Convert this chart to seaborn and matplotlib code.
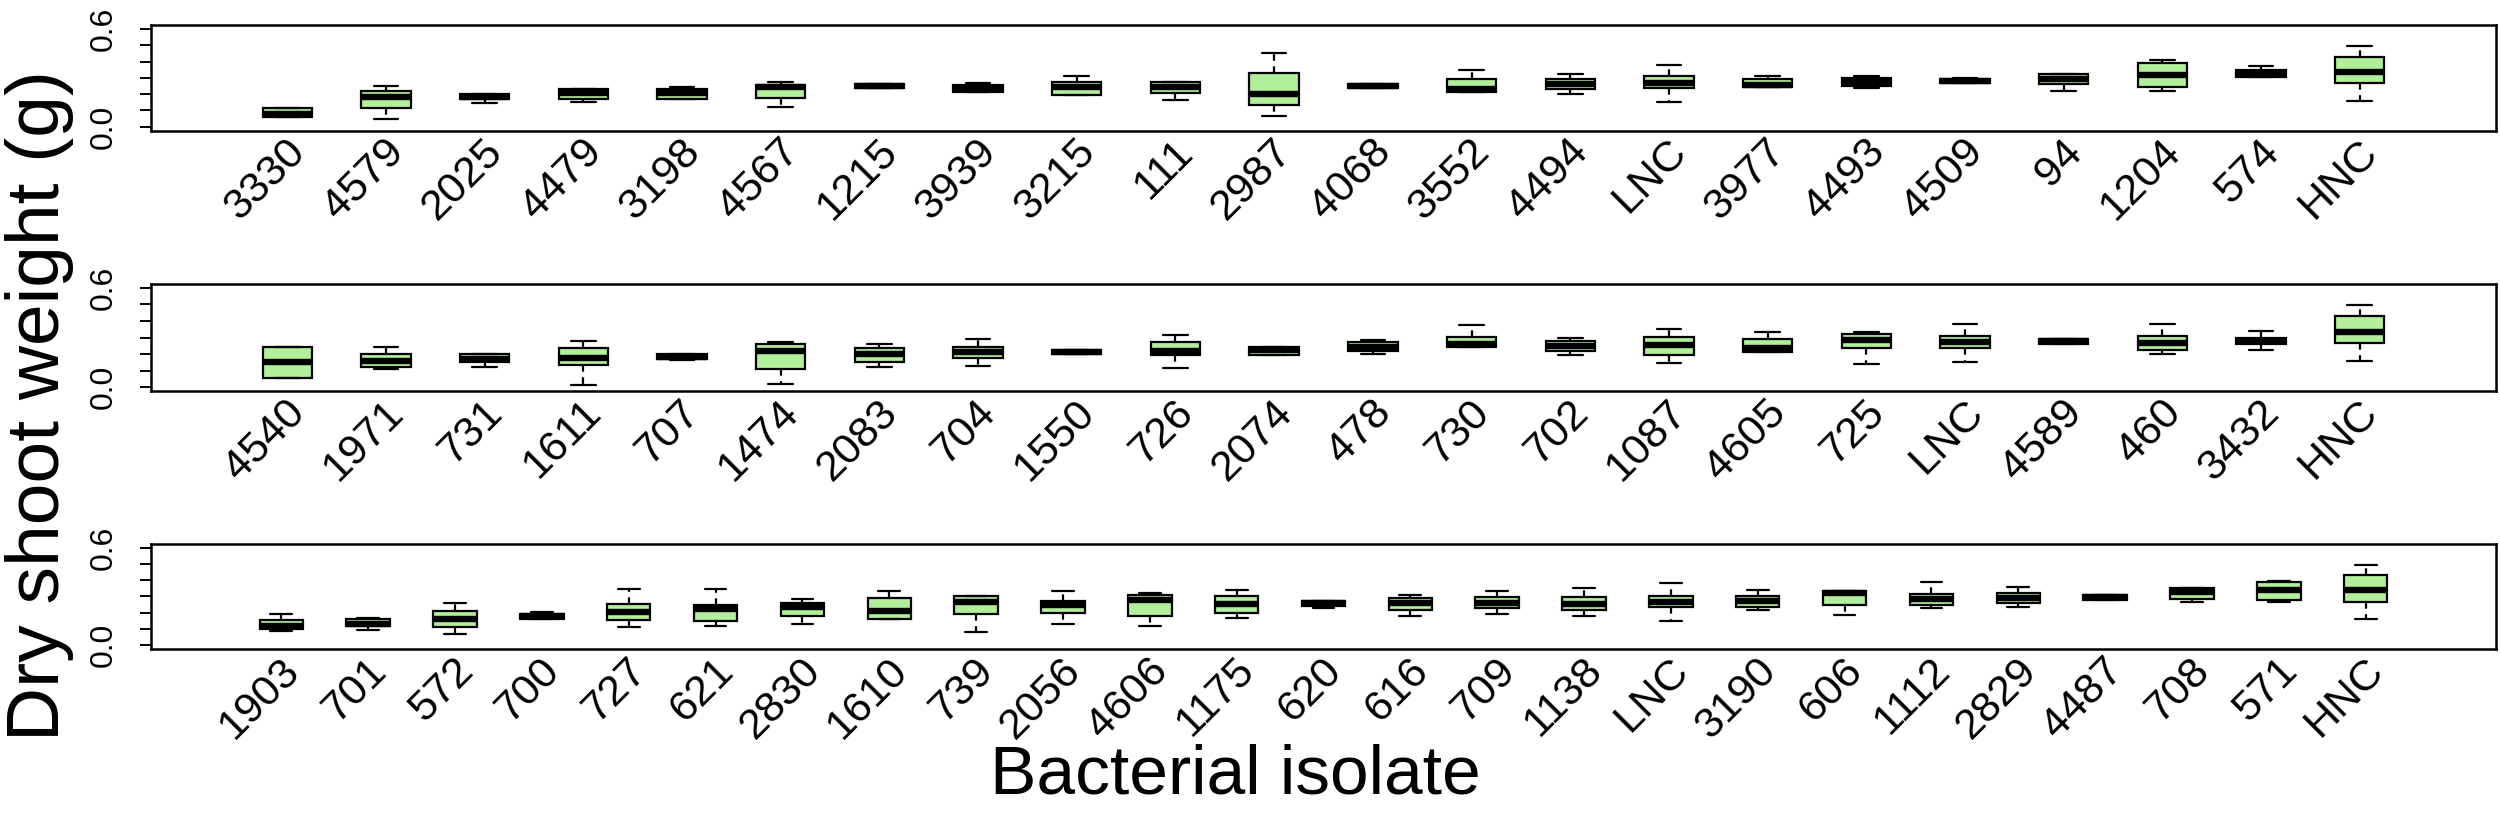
import numpy as np
import pandas as pd
import matplotlib
matplotlib.use("Agg")
import matplotlib.pyplot as plt
import matplotlib.transforms as mtransforms
import seaborn as sns

# Panel 1 - five-number summaries (lower whisker, Q1, median, Q3, upper whisker)
labels_1 = ["3330", "4579", "2025", "4479", "3198", "4567", "1215", "3939", "3215", "111", "2987",
            "4068", "3552", "4494", "LNC", "3977", "4493", "4509", "94", "1204", "574", "HNC"]
lo_1 = [0.057, 0.049, 0.148, 0.150, 0.168, 0.121, 0.238, 0.211, 0.197, 0.164, 0.066,
        0.238, 0.211, 0.199, 0.150, 0.242, 0.238, 0.268, 0.221, 0.221, 0.305, 0.160]
q1_1 = [0.057, 0.113, 0.168, 0.168, 0.172, 0.178, 0.240, 0.211, 0.197, 0.209, 0.131,
        0.238, 0.211, 0.230, 0.238, 0.242, 0.250, 0.268, 0.262, 0.246, 0.305, 0.268]
med_1 = [0.080, 0.180, 0.184, 0.210, 0.205, 0.242, 0.252, 0.230, 0.242, 0.246, 0.201,
         0.250, 0.230, 0.262, 0.270, 0.258, 0.273, 0.283, 0.295, 0.320, 0.332, 0.338]
q3_1 = [0.113, 0.219, 0.203, 0.234, 0.232, 0.258, 0.262, 0.258, 0.275, 0.275, 0.328,
        0.262, 0.295, 0.293, 0.309, 0.291, 0.297, 0.295, 0.324, 0.389, 0.348, 0.430]
hi_1 = [0.113, 0.250, 0.203, 0.234, 0.242, 0.273, 0.262, 0.268, 0.313, 0.275, 0.451,
        0.262, 0.350, 0.322, 0.381, 0.311, 0.311, 0.301, 0.324, 0.410, 0.373, 0.494]

# Panel 2
labels_2 = ["4540", "1971", "731", "1611", "707", "1474", "2083", "704", "1550", "726", "2074",
            "478", "730", "702", "1087", "4605", "725", "LNC", "4589", "460", "3432", "HNC"]
lo_2 = [0.057, 0.107, 0.123, 0.014, 0.164, 0.018, 0.119, 0.125, 0.203, 0.115, 0.195,
        0.203, 0.242, 0.195, 0.148, 0.213, 0.141, 0.150, 0.262, 0.201, 0.227, 0.160]
q1_2 = [0.057, 0.119, 0.152, 0.133, 0.170, 0.107, 0.152, 0.174, 0.203, 0.195, 0.195,
        0.217, 0.242, 0.219, 0.197, 0.213, 0.238, 0.236, 0.262, 0.225, 0.258, 0.268]
med_2 = [0.152, 0.160, 0.168, 0.178, 0.184, 0.219, 0.199, 0.211, 0.215, 0.221, 0.227,
         0.242, 0.262, 0.248, 0.254, 0.236, 0.287, 0.273, 0.279, 0.268, 0.279, 0.336]
q3_2 = [0.242, 0.199, 0.199, 0.234, 0.199, 0.258, 0.236, 0.242, 0.227, 0.270, 0.244,
        0.270, 0.303, 0.277, 0.305, 0.291, 0.324, 0.307, 0.291, 0.307, 0.299, 0.432]
hi_2 = [0.242, 0.240, 0.199, 0.281, 0.199, 0.273, 0.260, 0.289, 0.227, 0.318, 0.244,
        0.287, 0.375, 0.297, 0.350, 0.332, 0.336, 0.381, 0.291, 0.379, 0.340, 0.494]

# Panel 3
labels_3 = ["1903", "701", "572", "700", "727", "621", "2830", "1610", "739", "2056", "4606",
            "1175", "620", "616", "709", "1138", "LNC", "3190", "606", "1112", "2829", "4487",
            "708", "571", "HNC"]
lo_3 = [0.090, 0.096, 0.069, 0.161, 0.110, 0.116, 0.133, 0.161, 0.078, 0.129, 0.118,
        0.169, 0.231, 0.178, 0.192, 0.178, 0.149, 0.218, 0.188, 0.229, 0.235, 0.280,
        0.267, 0.265, 0.161]
q1_3 = [0.100, 0.120, 0.112, 0.161, 0.153, 0.147, 0.178, 0.161, 0.194, 0.196, 0.182,
        0.198, 0.243, 0.218, 0.227, 0.214, 0.235, 0.235, 0.247, 0.245, 0.257, 0.280,
        0.286, 0.276, 0.269]
med_3 = [0.116, 0.133, 0.161, 0.178, 0.206, 0.222, 0.233, 0.212, 0.265, 0.245, 0.276,
         0.255, 0.259, 0.259, 0.259, 0.255, 0.267, 0.271, 0.320, 0.284, 0.288, 0.296,
         0.329, 0.341, 0.337]
q3_3 = [0.157, 0.161, 0.212, 0.192, 0.253, 0.247, 0.259, 0.292, 0.300, 0.271, 0.312,
        0.300, 0.275, 0.290, 0.294, 0.296, 0.304, 0.304, 0.331, 0.318, 0.324, 0.312,
        0.355, 0.392, 0.431]
hi_3 = [0.194, 0.169, 0.261, 0.204, 0.349, 0.347, 0.286, 0.333, 0.304, 0.331, 0.320,
        0.339, 0.275, 0.308, 0.331, 0.355, 0.382, 0.341, 0.331, 0.392, 0.361, 0.312,
        0.355, 0.398, 0.492]

y_ticks = [0.0, 0.1, 0.2, 0.3, 0.4, 0.5, 0.6]
y_tick_labels = ["0.0", "", "", "", "", "", "0.6"]

panels = [
    (labels_1, lo_1, q1_1, med_1, q3_1, hi_1),
    (labels_2, lo_2, q1_2, med_2, q3_2, hi_2),
    (labels_3, lo_3, q1_3, med_3, q3_3, hi_3),
]


def to_long(labels, lo, q1, med, q3, hi):
    # five points per isolate reproduce the same box and whiskers
    rows = []
    for i, lab in enumerate(labels):
        for v in (lo[i], q1[i], med[i], q3[i], hi[i]):
            rows.append((lab, v))
    return pd.DataFrame(rows, columns=["isolate", "weight"])


sns.set_style("ticks")
plt.rcParams["font.family"] = ["Liberation Sans", "DejaVu Sans"]
plt.rcParams["text.color"] = "black"
plt.rcParams["xtick.color"] = "black"
plt.rcParams["ytick.color"] = "black"
plt.rcParams["axes.labelcolor"] = "black"

box_green = "#b2ef9b"
fig = plt.figure(figsize=(25, 8.19), dpi=100)

# axes rectangles (left, bottom, width, height) in figure fraction
axes_rects = [
    (0.0604, 0.8404, 0.938, 0.1291),
    (0.0604, 0.5226, 0.938, 0.1306),
    (0.0604, 0.2076, 0.938, 0.1282),
]

label_shift = mtransforms.ScaledTranslation(0.12, 0, fig.dpi_scale_trans)

for rect, (labels, lo, q1, med, q3, hi) in zip(axes_rects, panels):
    ax = fig.add_axes(rect)
    df = to_long(labels, lo, q1, med, q3, hi)
    sns.boxplot(data=df, x="isolate", y="weight", order=labels, ax=ax,
                color=box_green, saturation=1, width=0.5, linecolor="black",
                linewidth=1.6, showfliers=False,
                whiskerprops={"linestyle": (0, (3, 2.5))},
                medianprops={"color": "black", "linewidth": 4.6, "solid_capstyle": "butt"})
    n = len(labels)
    ax.set_xlim(-0.5 - 0.04 * n, n - 0.5 + 0.04 * n)
    ax.set_ylim(-0.024, 0.624)
    ax.set_xlabel("")
    ax.set_ylabel("")

    ax.set_yticks(y_ticks)
    ax.set_yticklabels(y_tick_labels, rotation=90, va="center", fontsize=23, color="black")
    ax.tick_params(axis="y", left=True, length=8, width=1.4, pad=15, direction="out",
                   color="black")

    ax.set_xticks(range(n))
    ax.set_xticklabels(labels, rotation=45, ha="right", va="center",
                       rotation_mode="anchor", fontsize=31, color="black")
    ax.tick_params(axis="x", bottom=True, length=0, pad=11)
    for lab in ax.get_xticklabels():
        lab.set_transform(lab.get_transform() + label_shift)

    for side in ["top", "bottom", "left", "right"]:
        ax.spines[side].set_visible(True)
        ax.spines[side].set_linewidth(1.8)
        ax.spines[side].set_color("black")

fig.text(0.494, 0.031, "Bacterial isolate", ha="center", va="baseline", fontsize=50,
         color="black")
fig.text(0.016, 0.505, "Dry shoot weight (g)", ha="center", va="center",
         rotation=90, fontsize=54, color="black")

fig.savefig("out.png", dpi=100)
